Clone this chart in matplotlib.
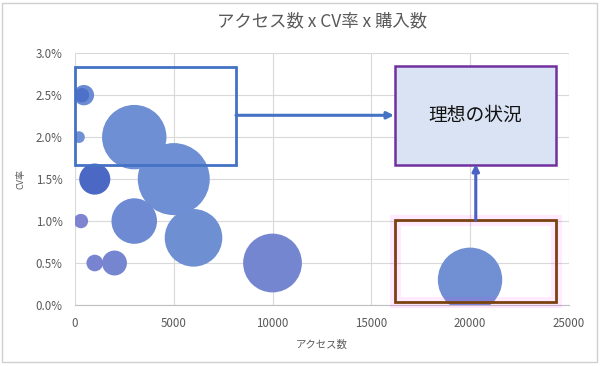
import numpy as np
import matplotlib.pyplot as plt
from matplotlib.patches import Rectangle, FancyArrowPatch

plt.rcParams['font.family'] = ['Noto Sans CJK JP', 'DejaVu Sans']

# data
access = [450, 350, 200, 3000, 5000, 1000, 300, 3000, 6000, 1000, 2000, 10000, 20000]
cvr = [2.5, 2.5, 2.0, 2.0, 1.5, 1.5, 1.0, 1.0, 0.8, 0.5, 0.5, 0.5, 0.3]  # %
purchase = [6, 3, 2, 60, 75, 14, 3, 30, 48, 4, 9, 50, 60]

x_ticks = [0, 5000, 10000, 15000, 20000, 25000]
y_ticks = [0.0, 0.5, 1.0, 1.5, 2.0, 2.5, 3.0]

title = 'アクセス数 x CV率 x 購入数'
xlabel = 'アクセス数'
ylabel = 'CV率'
ideal_label = '理想の状況'

# per-bubble shades
colors = ['#6A8BD4', '#4D71C8', '#7092D4', '#6E8FD3', '#6E8FD3', '#4A68C4', '#7F84D0',
          '#6E8AD2', '#6F8FD3', '#7884D0', '#7685D0', '#7586D0', '#7090D3']

fig = plt.figure(figsize=(6, 3.66), dpi=100)
ax = fig.add_axes([0.125, 0.1667, 0.823, 0.688])

# bubble area proportional to purchases, biggest ~72px across
p = np.array(purchase, dtype=float)
max_d = 72 * 0.72
sizes = p / p.max() * max_d ** 2
ax.scatter(access, cvr, s=sizes, c=colors, linewidths=0, zorder=3)

ax.set_xlim(0, 25000)
ax.set_ylim(0, 3.0)
ax.set_xticks(x_ticks)
ax.set_yticks(y_ticks)
ax.set_xticklabels([str(v) for v in x_ticks])
ax.set_yticklabels(['%.1f%%' % v for v in y_ticks])
ax.tick_params(length=0, labelsize=8.3, colors='#595959')
ax.tick_params(axis='x', pad=9)
ax.tick_params(axis='y', pad=9)
ax.grid(True, color='#D9D9D9', linewidth=0.8, zorder=0)
ax.set_axisbelow(True)
for s in ['top', 'right', 'left']:
    ax.spines[s].set_visible(False)
ax.spines['bottom'].set_color('#BFBFBF')
ax.spines['bottom'].set_linewidth(0.8)

ax.set_title(title, fontsize=12.5, color='#595959', pad=19)
ax.set_xlabel(xlabel, fontsize=7.5, color='#595959', labelpad=7)
ax.set_ylabel(ylabel, fontsize=6.5, color='#595959', labelpad=7)

# annotation shapes
ax.add_patch(Rectangle((0, 1.667), 8150, 1.163, fill=False, edgecolor='#4472C4',
                       linewidth=2, zorder=5, clip_on=False))
ax.add_patch(Rectangle((16200, 1.667), 8140, 1.178, facecolor='#DAE3F3',
                       edgecolor='#7030A0', linewidth=1.8, zorder=5, clip_on=False))
ax.text(20270, 2.256, ideal_label, ha='center', va='center', fontsize=13.5,
        color='#111111', zorder=6)
ax.add_patch(Rectangle((16200, 0.036), 8140, 0.974, fill=False, edgecolor='#FF33FF',
                       alpha=0.1, linewidth=8, zorder=5, clip_on=False))
ax.add_patch(Rectangle((16200, 0.036), 8140, 0.974, fill=False, edgecolor='#7A420F',
                       linewidth=2, zorder=6, clip_on=False))

ax.add_patch(FancyArrowPatch((8150, 2.26), (16150, 2.26), arrowstyle='-|>',
                             mutation_scale=10, color='#4472C4', linewidth=2.2,
                             shrinkA=0, shrinkB=0, zorder=6))
ax.add_patch(FancyArrowPatch((20290, 1.01), (20290, 1.68), arrowstyle='-|>',
                             mutation_scale=10, color='#4A62C4', linewidth=2.2,
                             shrinkA=0, shrinkB=0, zorder=6))

# chart area border
fig.add_artist(Rectangle((2 / 600, 1 - 362 / 366), 595 / 600, 359 / 366,
                         transform=fig.transFigure, fill=False,
                         edgecolor='#D0D0D0', linewidth=1))

fig.savefig('out.png', dpi=100)
